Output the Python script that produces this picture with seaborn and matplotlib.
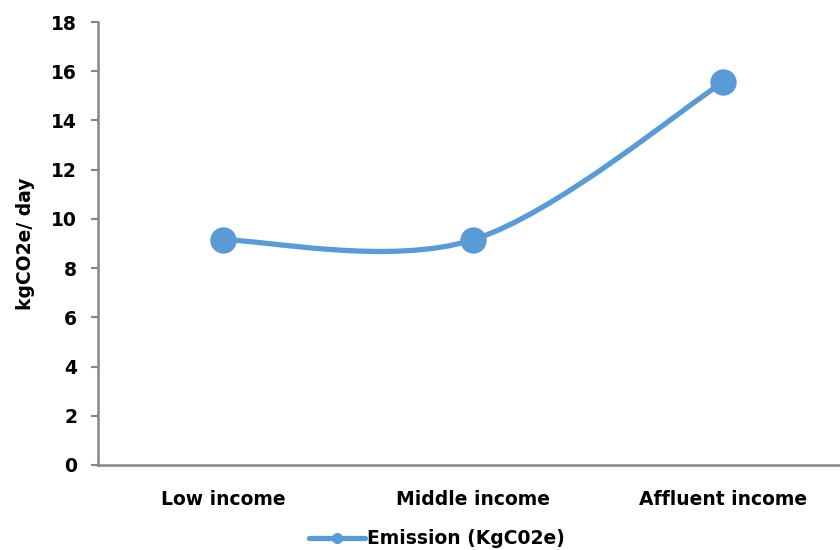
import matplotlib
matplotlib.use("Agg")
import matplotlib.pyplot as plt
from matplotlib.path import Path
from matplotlib.patches import PathPatch
from matplotlib.lines import Line2D
import seaborn as sns
import pandas as pd
import numpy as np

categories = ["Low income", "Middle income", "Affluent income"]
emission = [9.15, 9.15, 15.55]
y_ticks = [0, 2, 4, 6, 8, 10, 12, 14, 16, 18]
series_name = "Emission (KgC02e)"
y_label = "kgCO2e/ day"

sns.set_theme(style="white")
plt.rcParams['font.family'] = ['DejaVu Sans']
plt.rcParams['font.weight'] = 'bold'
plt.rcParams['text.color'] = 'black'
plt.rcParams['axes.labelcolor'] = 'black'

color = "#5B9BD5"
spine_col = "#868686"
fs = 13.5

fig = plt.figure(figsize=(8.4, 5.5), dpi=100)
ax = fig.add_axes([98/840, 85/550, 750/840, 443/550])

xs = list(range(len(categories)))
df = pd.DataFrame({"x": xs, "y": emission})

# Excel-style smoothed line (cubic Bezier, Catmull-Rom tangents)
pts = np.column_stack([xs, emission]).astype(float)
verts = [tuple(pts[0])]
codes = [Path.MOVETO]
n = len(pts)
for i in range(n - 1):
    p0 = pts[i - 1] if i > 0 else pts[i]
    p1 = pts[i]
    p2 = pts[i + 1]
    p3 = pts[i + 2] if i + 2 < n else pts[i + 1]
    c1 = p1 + (p2 - p0) / 6.0
    c2 = p2 - (p3 - p1) / 6.0
    verts += [tuple(c1), tuple(c2), tuple(p2)]
    codes += [Path.CURVE4] * 3
patch = PathPatch(Path(verts, codes), facecolor="none", edgecolor=color,
                  lw=3.8, capstyle="round", joinstyle="round", zorder=2)
ax.add_patch(patch)

sns.scatterplot(data=df, x="x", y="y", ax=ax, s=19**2, color=color,
                edgecolor=color, linewidth=0, zorder=3, legend=False)

ax.set_xlim(-0.5, len(categories) - 0.5)
ax.set_ylim(0, 18)
ax.set_yticks(y_ticks)
ax.set_yticklabels([str(v) for v in y_ticks], fontsize=fs, fontweight='bold')
ax.set_xticks(xs)
ax.set_xticklabels(categories, fontsize=fs, fontweight='bold')
ax.set_xticks([i - 0.5 for i in range(len(categories) + 1)], minor=True)
ax.tick_params(axis='x', which='major', length=0, pad=18, colors='black')
ax.tick_params(axis='x', which='minor', length=5, width=1.5, color=spine_col, direction='out')
ax.tick_params(axis='y', which='major', length=5, width=1.5, color=spine_col,
               direction='out', left=True, pad=10, labelcolor='black')
ax.set_xlabel("")
ax.set_ylabel(y_label, fontsize=fs, fontweight='bold', labelpad=12, color='black')

for s in ["top", "right"]:
    ax.spines[s].set_visible(False)
for s in ["left", "bottom"]:
    ax.spines[s].set_color(spine_col)
    ax.spines[s].set_linewidth(1.8)
ax.grid(False)

handle = Line2D([0], [0], color=color, lw=3.8, marker='o', markersize=7)
leg = fig.legend([handle], [series_name], loc='center', bbox_to_anchor=(437/840, 11/550),
                 frameon=False, prop={'size': fs, 'weight': 'bold'},
                 handlelength=3.0, handletextpad=0.1)
for t in leg.get_texts():
    t.set_color('black')

fig.savefig("out.png", dpi=100)
